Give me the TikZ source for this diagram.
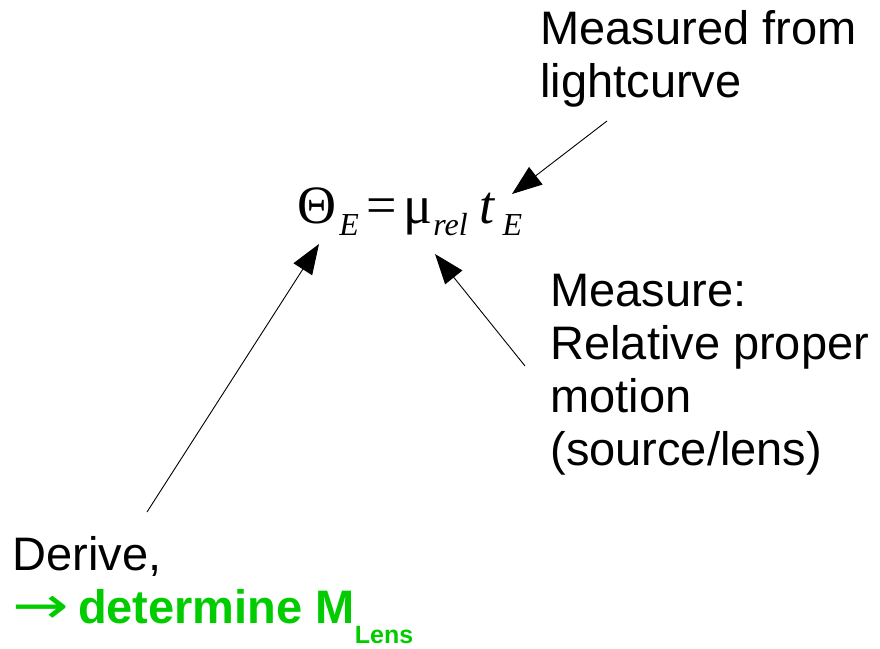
\documentclass[tikz,border=0pt]{standalone}
\usepackage{fontspec}
\setmainfont{Liberation Sans}
\newfontfamily\eqfont{Liberation Serif}
\newfontfamily\arrowfont{DejaVu Sans}
\usetikzlibrary{arrows.meta}
\definecolor{lensgreen}{RGB}{0,204,0}

\begin{document}
\begin{tikzpicture}[x=1pt,y=-1pt,line width=0.8pt]
\tikzset{label/.style={anchor=base west,inner sep=0pt,align=left,font=\fontsize{47}{53}\selectfont},
  pointer/.style={-{Triangle[length=30pt,width=22pt]},line width=0.9pt}}
\useasboundingbox (0,0) rectangle (880,648);

% ---------- formula ----------
\node[anchor=base west,inner sep=0pt,font=\eqfont\fontsize{54}{60}\selectfont] (eq) at (297,223)
  {Θ\hspace{3pt}\raisebox{-12pt}{\fontsize{32}{32}\selectfont\itshape E}\hspace{8pt}=\hspace{6pt}μ\hspace{1pt}\raisebox{-12pt}{\fontsize{32}{32}\selectfont\itshape rel}\hspace{12pt}{\itshape t}\hspace{8pt}\raisebox{-12pt}{\fontsize{32}{32}\selectfont\itshape E}};

% ---------- labels (anchored at last baseline) ----------
\node[label] (lc) at (540,97) {Measured from\\lightcurve};
\node[label] (pm) at (550,465) {Measure:\\Relative proper\\motion\\(source/lens)};
\node[label] (dv) at (12,623) {Derive,\\{\color{lensgreen}\scalebox{1.3}[1]{\arrowfont\fontsize{52}{53}\selectfont →}\hspace{9pt}\textbf{determine M}\raisebox{-20pt}{\fontsize{25}{25}\selectfont\bfseries Lens}}};

% ---------- arrows ----------
\coordinate (lc tail) at (607,121);
\coordinate (tE tip) at (512,194);
\coordinate (pm tail) at (525,366);
\coordinate (mu tip) at (435,254);
\coordinate (dv tail) at (147,512);
\coordinate (theta tip) at (319,244);

\draw[pointer] (lc tail) -- (tE tip);
\draw[pointer] (pm tail) -- (mu tip);
\draw[pointer] (dv tail) -- (theta tip);

\end{tikzpicture}
\end{document}
